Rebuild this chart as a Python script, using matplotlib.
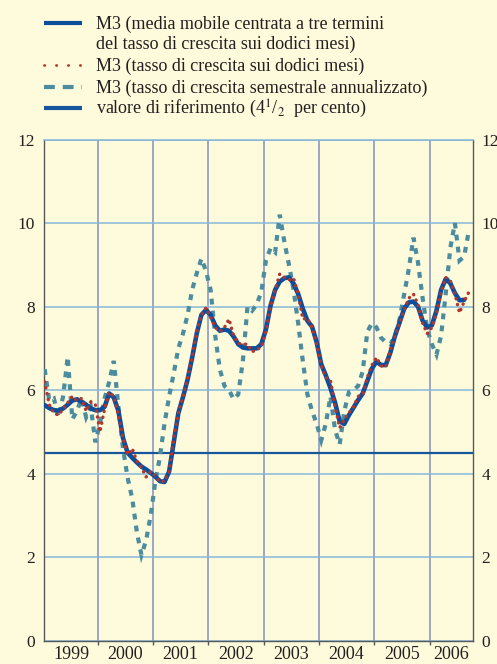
import numpy as np
import matplotlib.pyplot as plt
from matplotlib.lines import Line2D

plt.rcParams['font.family'] = ['Liberation Serif', 'DejaVu Serif']
plt.rcParams['mathtext.fontset'] = 'stix'

# monthly data starting January 1999 (percentages)
# M3, three-month centred moving average of the annual growth rate (to Aug 2006)
m3_ma3 = [5.64, 5.57, 5.52, 5.51, 5.56, 5.65, 5.75, 5.78, 5.72, 5.65, 5.56, 5.52,
          5.52, 5.60, 5.92, 5.82, 5.50, 4.85, 4.50, 4.38, 4.27, 4.17, 4.10, 4.02,
          3.93, 3.82, 3.80, 4.05, 4.75, 5.45, 5.83, 6.25, 6.78, 7.36, 7.80, 7.92,
          7.80, 7.55, 7.42, 7.45, 7.42, 7.28, 7.10, 7.02, 7.00, 7.00, 7.00, 7.10,
          7.45, 8.02, 8.40, 8.60, 8.68, 8.70, 8.55, 8.30, 7.95, 7.66, 7.52, 7.15,
          6.62, 6.35, 6.05, 5.70, 5.25, 5.19, 5.40, 5.58, 5.76, 5.92, 6.22, 6.52,
          6.68, 6.60, 6.60, 6.90, 7.30, 7.62, 7.95, 8.10, 8.12, 8.00, 7.66, 7.50,
          7.55, 7.90, 8.40, 8.66, 8.56, 8.32, 8.15, 8.16]

# M3, annual growth rate (to Sep 2006)
m3_12m = [6.20, 5.65, 5.45, 5.40, 5.55, 5.70, 5.85, 5.75, 5.80, 5.50, 5.72, 5.65,
          5.00, 5.55, 5.95, 5.85, 5.40, 4.85, 4.45, 4.60, 4.30, 4.15, 3.92, 4.05,
          3.95, 3.80, 3.82, 4.05, 4.85, 5.45, 5.85, 6.30, 6.80, 7.40, 7.80, 7.97,
          7.75, 7.50, 7.40, 7.50, 7.70, 7.30, 7.12, 7.10, 7.10, 6.92, 6.96, 7.04,
          7.40, 8.00, 8.40, 8.78, 8.70, 8.64, 8.68, 8.30, 7.70, 7.72, 7.50, 7.10,
          6.60, 6.30, 6.24, 5.60, 5.10, 5.30, 5.45, 5.60, 5.85, 5.90, 6.30, 6.60,
          6.78, 6.58, 6.55, 6.96, 7.30, 7.60, 7.92, 8.20, 8.30, 8.05, 7.60, 7.35,
          7.50, 7.85, 8.36, 8.70, 8.62, 8.30, 7.85, 8.12, 8.34]

# M3, annualised six-month growth rate (to Sep 2006)
m3_6m_ann = [6.50, 5.75, 5.80, 5.35, 5.85, 6.80, 5.30, 5.50, 5.80, 5.35, 5.60, 4.75,
             5.20, 5.80, 6.20, 6.70, 5.60, 4.60, 3.90, 3.40, 2.60, 2.05, 2.40, 3.00,
             3.80, 4.40, 5.20, 5.85, 6.40, 7.00, 7.35, 7.80, 8.40, 8.80, 9.15, 8.85,
             8.40, 7.30, 6.50, 6.10, 6.00, 5.78, 5.90, 6.70, 8.00, 7.90, 8.05, 8.35,
             9.10, 9.40, 9.30, 10.20, 9.55, 9.00, 8.40, 7.60, 6.70, 5.90, 5.50, 5.20,
             4.80, 5.20, 5.85, 5.05, 4.70, 5.50, 5.95, 6.00, 6.10, 6.45, 7.40, 7.60,
             7.50, 7.25, 7.15, 7.10, 7.30, 7.70, 8.30, 8.90, 9.65, 9.05, 8.20, 7.45,
             7.10, 6.85, 7.30, 8.30, 9.40, 10.00, 9.10, 9.20, 9.80]

reference_value = 4.5
years = [1999, 2000, 2001, 2002, 2003, 2004, 2005, 2006]
y_ticks = [0, 2, 4, 6, 8, 10, 12]

labels = [['M3 (media mobile centrata a tre termini',
           'del tasso di crescita sui dodici mesi)'],
          ['M3 (tasso di crescita sui dodici mesi)'],
          ['M3 (tasso di crescita semestrale annualizzato)'],
          [r'valore di riferimento (4$^{1}$/$_{2}$  per cento)']]


def month_axis(values):
    # mid-month positions in decimal years
    return 1999 + (np.arange(len(values)) + 0.5) / 12


bg = '#fefbdc'
c_ma = '#0b4f9c'
c_12 = '#b3352b'
c_6 = '#4b8c9e'
c_ref = '#15569f'
c_hgrid = '#86b6da'
c_vgrid = '#8190bf'
c_axis = '#58585a'
c_text = '#231f20'

W, H = 497, 664
fig = plt.figure(figsize=(W / 100, H / 100), dpi=100)
fig.patch.set_facecolor(bg)

ax = fig.add_axes([44.3 / W, 1 - 640.7 / H, (472.7 - 44.3) / W, (640.7 - 139.5) / H])
ax.set_facecolor(bg)
x_lo, x_hi = 1999.035, 2006.78
ax.set_xlim(x_lo, x_hi)
ax.set_ylim(0, 12)

# series
ax.axhline(reference_value, color=c_ref, lw=1.6, zorder=2)
ax.plot(month_axis(m3_6m_ann), m3_6m_ann, color=c_6, lw=3.0,
        linestyle=(0, (1.4, 1.5)), dash_capstyle='butt', dash_joinstyle='miter', zorder=3)
ax.plot(month_axis(m3_ma3), m3_ma3, color=c_ma, lw=3.3,
        solid_joinstyle='round', solid_capstyle='round', zorder=4)
ax.plot(month_axis(m3_12m), m3_12m, color=c_12, lw=2.4,
        linestyle=(0, (0.1, 1.7)), dash_capstyle='round', zorder=5)

# y axis: labels on both sides, horizontal grid
ax.set_yticks(y_ticks)
ax.yaxis.grid(True, color=c_hgrid, lw=1.1)
ax.tick_params(axis='y', left=False, right=False, labelleft=True, labelright=True,
               labelsize=12.5, labelcolor=c_text, pad=3)

# x axis: ticks at year boundaries, labels centred in each year
ax.set_xticks(years[1:], minor=True)
mids = [(max(y, x_lo) + min(y + 1, x_hi)) / 2 for y in years]
ax.set_xticks(mids)
ax.set_xticklabels([str(y) for y in years])
ax.xaxis.grid(True, which='minor', color=c_vgrid, lw=1.1)
ax.tick_params(axis='x', which='major', length=0, labelsize=13, labelcolor=c_text, pad=4)
ax.tick_params(axis='x', which='minor', length=3, width=1, color=c_axis, direction='out')
ax.set_axisbelow(True)

for side in ['left', 'right', 'bottom']:
    ax.spines[side].set_color(c_axis)
    ax.spines[side].set_linewidth(1.0)
ax.spines['top'].set_color(c_hgrid)
ax.spines['top'].set_linewidth(1.1)


# legend drawn above the plot area
def fx(px):
    return px / W


def fy(px):
    return 1 - px / H


styles = [dict(color=c_ma, lw=3.0, solid_capstyle='butt'),
          dict(color=c_12, lw=2.0, linestyle=(0, (0.1, 4.2)), dash_capstyle='round'),
          dict(color=c_6, lw=3.0, linestyle=(0, (2.6, 1.9)), dash_capstyle='butt'),
          dict(color=c_ref, lw=3.0, solid_capstyle='butt')]
rows = [[23, 43], [65], [87], [108]]
for style, label, yrows in zip(styles, labels, rows):
    fig.add_artist(Line2D([fx(44), fx(82)], [fy(yrows[0]), fy(yrows[0])],
                          transform=fig.transFigure, **style))
    for line, yrow in zip(label, yrows):
        fig.text(fx(96), fy(yrow + 6), line, fontsize=13, color=c_text,
                 va='baseline', ha='left')

fig.savefig('out.png', dpi=100, facecolor=bg)
